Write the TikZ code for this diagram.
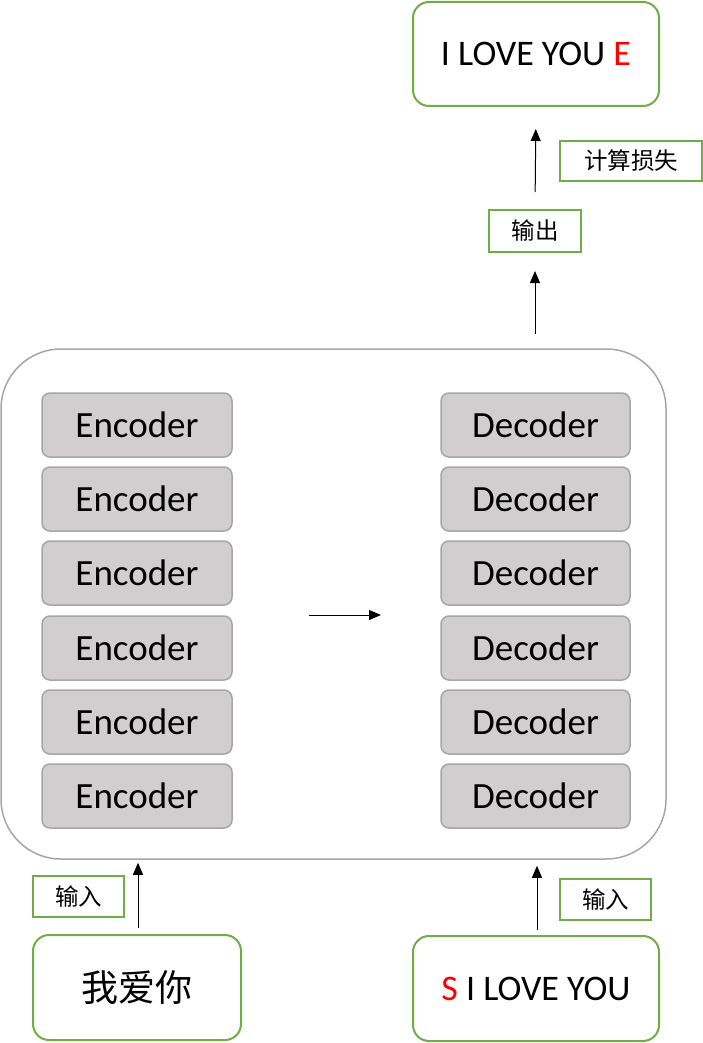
\documentclass[tikz,border=0pt]{standalone}
\usepackage{fontspec}
\setmainfont{Carlito}
\newfontfamily\cjk{Noto Sans CJK SC}
\usetikzlibrary{arrows.meta}
\definecolor{grn}{HTML}{70AD47}
\definecolor{gborder}{HTML}{A6A6A6}
\definecolor{gfill}{HTML}{D0CECE}
\begin{document}
\begin{tikzpicture}[x=1pt,y=-1pt,
  bigbox/.style={draw=grn,line width=2pt,rounded corners=16pt,fill=white,inner sep=0pt,font=\fontsize{36}{43}\selectfont},
  lbl/.style={draw=grn,line width=2pt,inner sep=0pt,font=\cjk\fontsize{23.5}{28}\selectfont},
  layer/.style={draw=gborder,fill=gfill,line width=1.5pt,rounded corners=8pt,inner sep=0pt,font=\fontsize{37}{44}\selectfont},
  arr/.style={-{Triangle[length=12pt,width=10pt]},line width=1pt}]
\useasboundingbox (0,0) rectangle (703,1043);
% container
\node[draw=gborder,line width=1.5pt,rounded corners=60pt,minimum width=665pt,minimum height=510pt,inner sep=0pt] (cont) at (333.5,604) {};
% encoders / decoders
\foreach \i/\y in {1/425,2/499,3/573,4/648,5/722,6/796}{
  \node[layer,minimum width=190pt,minimum height=64pt] (enc\i) at (137,\y) {Encoder};
  \node[layer,minimum width=189pt,minimum height=64pt] (dec\i) at (535.5,\y) {Decoder};
}
% top output
\node[bigbox,minimum width=246pt,minimum height=104pt] (tgt) at (536,54) {I LOVE YOU \textcolor{red}{E}};
\node[lbl,minimum width=142pt,minimum height=40pt] (loss) at (631,161) {计算损失};
\node[lbl,minimum width=92pt,minimum height=42pt] (out) at (535,231) {输出};
% bottom inputs
\node[bigbox,minimum width=208pt,minimum height=105pt,font=\cjk\fontsize{37}{44}\selectfont] (src) at (137,987.5) {我爱你};
\node[bigbox,minimum width=246pt,minimum height=105pt] (dsrc) at (536,988.5) {\textcolor{red}{S} I LOVE YOU};
\node[lbl,minimum width=91pt,minimum height=41pt] (in1) at (78.5,896.5) {输入};
\node[lbl,minimum width=91pt,minimum height=41pt] (in2) at (605.5,899.5) {输入};
% arrows
\draw[arr,shorten <=17pt,shorten >=22pt] (out.north) -- (tgt.south);
\draw[arr,shorten <=14pt,shorten >=18pt] (cont.north -| out) -- (out.south);
\draw[arr,shorten <=6pt,shorten >=3pt] ([xshift=1pt]src.north) -- ([xshift=1pt]cont.south -| src);
\draw[arr,shorten <=5pt,shorten >=6pt] ([xshift=1pt]dsrc.north) -- ([xshift=1pt]cont.south -| dsrc);
\coordinate (m1) at (309,615);
\coordinate (m2) at (381,615);
\draw[arr] (m1) -- (m2);
\end{tikzpicture}
\end{document}
